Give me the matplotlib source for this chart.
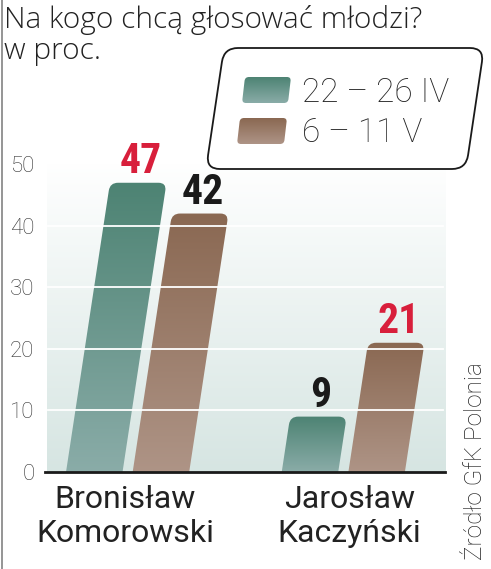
import matplotlib
matplotlib.use('Agg')
import matplotlib.pyplot as plt
import numpy as np
from matplotlib.path import Path
from matplotlib.patches import PathPatch
from matplotlib.transforms import IdentityTransform, blended_transform_factory
from matplotlib.colors import LinearSegmentedColormap
from matplotlib import font_manager as fm

# ---------------- data ----------------
categories = ['Bronisław\nKomorowski', 'Jarosław\nKaczyński']
series_names = ['22 – 26 IV', '6 – 11 V']
values_apr = [47, 9]
values_may = [42, 21]
label_colors_apr = ['#d81f3b', '#1a1a1a']
label_colors_may = ['#1a1a1a', '#d81f3b']
yticks = [0, 10, 20, 30, 40, 50]
title_lines = ['Na kogo chcą głosować młodzi?', 'w proc.']
source = 'Źródło GfK Polonia'

# ---------------- fonts ----------------
def _is_bold(w):
    try:
        return int(w) >= 600
    except Exception:
        return str(w).lower() in ('bold', 'semibold', 'demibold', 'heavy', 'black', 'extra bold')

cands = []
for f in fm.fontManager.ttflist:
    narrowish = (str(f.stretch) in ('condensed', 'semi-condensed', 'extra-condensed')
                 or 'Narrow' in f.name or 'Condensed' in f.name)
    if narrowish and _is_bold(f.weight):
        cands.append(f)
pri = ['Liberation Sans Narrow', 'Roboto Condensed', 'Noto Sans', 'Open Sans', 'DejaVu Sans']
def _key(f):
    for i, n in enumerate(pri):
        if f.name.startswith(n):
            return (i, abs((int(f.weight) if str(f.weight).isdigit() else 700) - 700))
    return (99, 0)
cands.sort(key=_key)
if cands:
    NUMPROP = dict(fontproperties=fm.FontProperties(fname=cands[0].fname, size=30))
else:
    NUMPROP = dict(family=['Roboto', 'DejaVu Sans'], fontweight='bold', fontsize=27)

# ---------------- style ----------------
W, H = 491, 569
LIGHT = ['Roboto', 'DejaVu Sans']
TITLEF = ['Open Sans', 'Roboto', 'DejaVu Sans']
teal_cm = LinearSegmentedColormap.from_list('teal', ['#8aaca8', '#4d8373'])
brown_cm = LinearSegmentedColormap.from_list('brown', ['#ae9486', '#8a6852'])
bg_cm = LinearSegmentedColormap.from_list('bg', ['#d6e5e2', '#ffffff'])
series_cmaps = [teal_cm, brown_cm]
grad = np.linspace(0, 1, 256).reshape(-1, 1)

fig = plt.figure(figsize=(W / 100, H / 100), dpi=100)
fig.patch.set_facecolor('white')

ax_left, ax_right, ax_bottom, ax_top = 45, 445, 472, 164.3
ax = fig.add_axes([ax_left / W, 1 - ax_bottom / H, (ax_right - ax_left) / W,
                   (ax_bottom - ax_top) / H])
group_px = 215.7
c0 = 127.5
xl = (ax_left - c0) / group_px
xr = (ax_right - c0) / group_px
ax.set_xlim(xl, xr)
ax.set_ylim(0, 50)
ax.set_autoscale_on(False)
ax.patch.set_alpha(0)

for s in ['top', 'right', 'left']:
    ax.spines[s].set_visible(False)
ax.spines['bottom'].set_color('#1a1a1a')
ax.spines['bottom'].set_linewidth(2.0)
ax.spines['bottom'].set_zorder(5)

# background gradient
ax.imshow(grad, extent=[(47 - c0) / group_px, xr, 0, 50.5], origin='lower',
          cmap=bg_cm, aspect='auto', zorder=0, interpolation='bilinear')

# grid lines (on top of bars)
for t in yticks[1:]:
    ax.axhline(t, xmin=3 / 400, xmax=398 / 400, color='white', lw=1.3, zorder=3)

ax.set_yticks(yticks)
ax.set_yticklabels([str(t) for t in yticks], family=LIGHT, fontweight='light',
                   fontsize=16, color='#333333')
ax.tick_params(axis='y', length=0, pad=7.5)
ax.set_xticks([])


def rounded_poly(pts, radii):
    n = len(pts)
    verts, codes = [], []
    for i in range(n):
        p = np.array(pts[i], float)
        prev = np.array(pts[i - 1], float)
        nxt = np.array(pts[(i + 1) % n], float)
        r = radii[i]
        if r <= 0:
            verts.append(p)
            codes.append(Path.MOVETO if i == 0 else Path.LINETO)
            continue
        d1 = (prev - p) / np.linalg.norm(prev - p)
        d2 = (nxt - p) / np.linalg.norm(nxt - p)
        a = p + d1 * r
        b = p + d2 * r
        verts.append(a)
        codes.append(Path.MOVETO if i == 0 else Path.LINETO)
        verts += [p, b]
        codes += [Path.CURVE3, Path.CURVE3]
    verts.append(verts[0])
    codes.append(Path.CLOSEPOLY)
    return Path(verts, codes)


slant = 0.152
offsets = [-0.154, 0.155]
width = 0.262
for si, (vals, lcols) in enumerate([(values_apr, label_colors_apr),
                                    (values_may, label_colors_may)]):
    for ci, v in enumerate(vals):
        x0 = ci + offsets[si] - width / 2
        xa, yb = ax.transData.transform((x0, 0))
        xb, yt = ax.transData.transform((x0 + width, v))
        sh = slant * (yt - yb)
        pts = [(xa, yb), (xb, yb), (xb + sh, yt), (xa + sh, yt)]
        patch = PathPatch(rounded_poly(pts, [0, 0, 8, 8]),
                          transform=IdentityTransform(),
                          facecolor='none', edgecolor='none', zorder=1.5)
        ax.add_patch(patch)
        im = ax.imshow(grad, extent=[xl, xr, 0, v], origin='lower',
                       cmap=series_cmaps[si], aspect='auto', zorder=1.4,
                       interpolation='bilinear')
        im.set_clip_path(patch)
        cx = (xa + xb) / 2 + sh + slant * 15
        ax.text(cx, yt + 10, str(v), transform=IdentityTransform(),
                ha='center', va='baseline', color=lcols[ci], zorder=6,
                **NUMPROP)

# category labels
btr = blended_transform_factory(ax.transData, IdentityTransform())
label_shift = [-0.01, 0.03]
for ci, cat in enumerate(categories):
    for li, line in enumerate(cat.split('\n')):
        ax.text(ci + label_shift[ci], H - (508 + 34 * li), line, transform=btr,
                ha='center', va='baseline', family=['Roboto', 'DejaVu Sans'],
                fontsize=23, color='#222222', clip_on=False)

# ---------------- overlay (title, legend, source) ----------------
ov = fig.add_axes([0, 0, 1, 1], zorder=10)
ov.set_xlim(0, W)
ov.set_ylim(H, 0)
ov.axis('off')
ov.patch.set_alpha(0)

ov.plot([2, 2], [0, H], color='#8c8c8c', lw=1.3)

ov.text(4, 28, title_lines[0], ha='left', va='baseline', family=TITLEF,
        fontweight='light', fontsize=21.5, color='#222222')
ov.text(4, 59, title_lines[1], ha='left', va='baseline', family=TITLEF,
        fontweight='light', fontsize=21.5, color='#222222')

# legend box
box_pts = [(224, 48), (484, 48), (466, 169), (206, 169)]
box = PathPatch(rounded_poly(box_pts, [14, 14, 14, 14]), facecolor='white',
                edgecolor='#1a1a1a', lw=1.3, zorder=2)
ov.add_patch(box)
leg_rects = [[(245, 77), (291, 77), (288, 103), (242, 103)],
             [(240, 118), (287, 118), (284, 144), (237, 144)]]
leg_base = [102, 142]
for si, name in enumerate(series_names):
    p = PathPatch(rounded_poly(leg_rects[si], [4, 4, 4, 4]), facecolor='none',
                  edgecolor='none', zorder=3)
    ov.add_patch(p)
    y0 = leg_rects[si][0][1]
    y1 = leg_rects[si][2][1]
    im = ov.imshow(grad, extent=[230, 300, y1, y0], origin='lower',
                   cmap=series_cmaps[si], aspect='auto', zorder=3,
                   interpolation='bilinear')
    im.set_clip_path(p)
    ov.text(302, leg_base[si], name, ha='left', va='baseline', family=LIGHT,
            fontweight='light', fontsize=24, color='#222222', zorder=4)
ov.set_xlim(0, W)
ov.set_ylim(H, 0)

ov.text(476, 560, source, rotation=90, ha='center', va='bottom', family=LIGHT,
        fontweight='light', fontsize=17.5, color='#222222')

fig.savefig('out.png', dpi=100, facecolor='white')
